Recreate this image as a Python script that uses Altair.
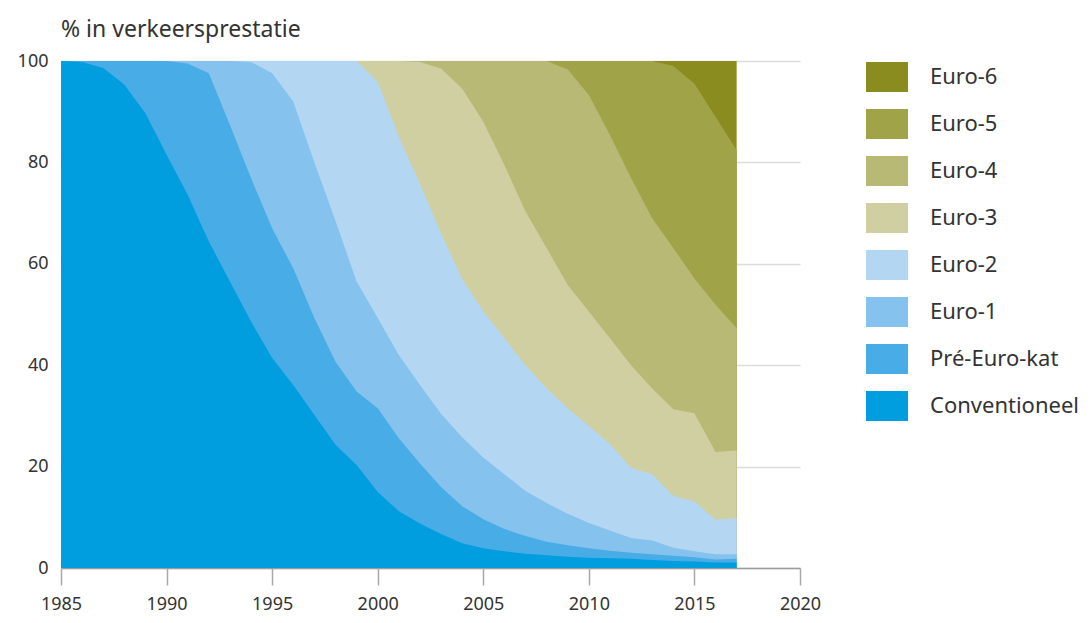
import altair as alt
import pandas as pd

# ---- data -----------------------------------------------------------------
years = list(range(1985, 2018))

klassen = ["Conventioneel", "Pré-Euro-kat", "Euro-1", "Euro-2",
           "Euro-3", "Euro-4", "Euro-5", "Euro-6"]
kleuren = ["#009ddf", "#48ace6", "#86c2ee", "#b3d7f3",
           "#cfcfa1", "#b7b975", "#a0a347", "#8b8c20"]

# upper edge (cumulative % in verkeersprestatie) of each class, 1985-2017
top_conv = [100, 99.8, 98.6, 95.3, 89.7, 81.5, 73.6, 64.4, 56.5, 48.6, 41.4,
            36.1, 30.2, 24.3, 20.3, 15.0, 11.2, 8.8, 6.7, 4.9, 3.9, 3.3,
            2.8, 2.5, 2.2, 2.0, 1.9, 1.8, 1.6, 1.4, 1.3, 1.1, 1.1]
top_pre = [100, 100, 100, 100, 100, 100, 99.5, 97.6, 87.4, 76.9, 67.0,
           59.1, 49.3, 40.7, 34.8, 31.5, 25.6, 20.6, 16.0, 12.2, 9.6, 7.7,
           6.3, 5.2, 4.5, 3.9, 3.4, 3.0, 2.7, 2.4, 2.1, 1.7, 1.8]
top_e1 = [100, 100, 100, 100, 100, 100, 100, 100, 100, 99.8, 97.6,
          92.0, 80.0, 68.5, 56.5, 49.3, 42.0, 36.1, 30.4, 25.8, 21.8, 18.5,
          15.2, 12.8, 10.7, 8.9, 7.4, 5.9, 5.4, 4.0, 3.3, 2.7, 2.7]
top_e2 = [100, 100, 100, 100, 100, 100, 100, 100, 100, 100, 100,
          100, 100, 100, 100, 95.9, 85.0, 75.8, 66.0, 57.0, 50.6, 45.3,
          40.0, 35.4, 31.5, 28.0, 24.4, 19.7, 18.5, 14.2, 13.1, 9.5, 9.8]
top_e3 = [100, 100, 100, 100, 100, 100, 100, 100, 100, 100, 100,
          100, 100, 100, 100, 100, 100, 99.8, 98.5, 94.6, 88.0, 79.5,
          70.3, 63.1, 55.8, 50.6, 45.3, 40.0, 35.4, 31.3, 30.5, 22.9, 23.2]
top_e4 = [100, 100, 100, 100, 100, 100, 100, 100, 100, 100, 100,
          100, 100, 100, 100, 100, 100, 100, 100, 100, 100, 100,
          100, 100, 98.3, 93.3, 85.4, 76.9, 69.0, 63.1, 57.1, 51.9, 47.3]
top_e5 = [100, 100, 100, 100, 100, 100, 100, 100, 100, 100, 100,
          100, 100, 100, 100, 100, 100, 100, 100, 100, 100, 100,
          100, 100, 100, 100, 100, 100, 100, 99.0, 95.5, 89.0, 82.4]
top_e6 = [100] * 33

tops = [top_conv, top_pre, top_e1, top_e2, top_e3, top_e4, top_e5, top_e6]

x_ticks = [1985, 1990, 1995, 2000, 2005, 2010, 2015, 2020]
y_ticks = [0, 20, 40, 60, 80, 100]

# ---- table ------------------------------------------------------------------
rows = []
for k, t in zip(klassen, tops):
    for j, v in zip(years, t):
        rows.append({"jaar": j, "klasse": k, "top": v})
df = pd.DataFrame(rows)

FONT = "Noto Sans"
TXT = "#333333"

legend_order = list(reversed(klassen))
legend_colors = list(reversed(kleuren))
color_scale = alt.Scale(domain=legend_order, range=legend_colors)

x_enc = alt.X("jaar:Q",
              scale=alt.Scale(domain=[1985, 2020], nice=False, zero=False),
              axis=alt.Axis(values=x_ticks, format="d", grid=False, title=None,
                            domainColor="#9d9d9d", domainWidth=1.5,
                            tickColor="#a8a8a8", tickWidth=1.5, tickSize=17,
                            labelPadding=10, labelFlush=False,
                            labelFontSize=18))
y_enc = alt.Y("top:Q", stack=None,
              scale=alt.Scale(domain=[0, 100], nice=False),
              axis=alt.Axis(values=y_ticks, grid=True, gridColor="#dcdcdc",
                            gridWidth=1.5, domain=False, ticks=False,
                            title=None, labelPadding=13, labelFontSize=18))
c_enc = alt.Color("klasse:N", scale=color_scale, sort=legend_order,
                  legend=alt.Legend(orient="none", legendX=811, legendY=1,
                                    title=None,
                                    symbolType="M-1.4,-1L1.4,-1L1.4,1L-1.4,1Z",
                                    symbolSize=900, symbolStrokeWidth=0,
                                    symbolOpacity=1,
                                    labelFontSize=22, labelFont=FONT,
                                    labelColor=TXT, labelOffset=28,
                                    rowPadding=17, padding=0, labelLimit=300))

layers = []
# paint from the top class down, each area from 0 to its upper edge
for k in reversed(klassen):
    layers.append(
        alt.Chart()
        .transform_filter(alt.FieldEqualPredicate(field="klasse", equal=k))
        .mark_area(interpolate="linear")
        .encode(x=x_enc, y=y_enc, color=c_enc)
    )

chart = (
    alt.layer(*layers, data=df)
    .properties(
        width=739, height=507,
        autosize=alt.AutoSizeParams(type="none"),
        padding={"left": 53, "top": 53, "right": 284, "bottom": 47},
        title=alt.TitleParams("% in verkeersprestatie", anchor="start",
                              frame="group", fontSize=23, font=FONT,
                              color=TXT, fontWeight="normal", offset=10),
    )
    .configure_view(stroke=None)
    .configure_axis(labelFont=FONT, labelColor=TXT)
)

chart.save("out.html", embed_options={"renderer": "svg", "actions": False})
